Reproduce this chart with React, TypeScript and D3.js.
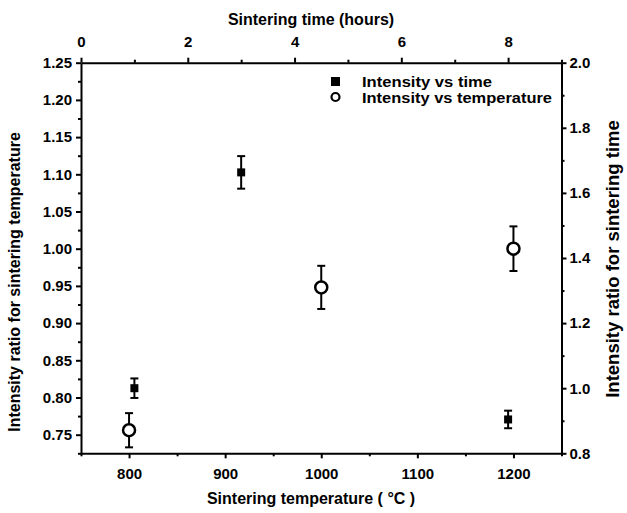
import React, { useEffect, useRef } from 'react';
import * as d3 from 'd3';

// intensity vs sintering temperature (bottom / left axes)
const tempX = [800, 1000, 1200];
const tempY = [0.756, 0.948, 1.0];
const tempErr = [0.023, 0.029, 0.03];

// intensity vs sintering time (top / right axes)
const timeX = [1, 3, 8];
const timeY = [1.0, 1.663, 0.904];
const timeErr = [0.03, 0.05, 0.027];

const leftTicks = [0.75, 0.8, 0.85, 0.9, 0.95, 1.0, 1.05, 1.1, 1.15, 1.2, 1.25];
const leftMinor = [0.725, 0.775, 0.825, 0.875, 0.925, 0.975, 1.025, 1.075, 1.125, 1.175, 1.225];
const rightTicks = [0.8, 1.0, 1.2, 1.4, 1.6, 1.8, 2.0];
const rightMinor = [0.9, 1.1, 1.3, 1.5, 1.7, 1.9];
const bottomTicks = [800, 900, 1000, 1100, 1200];
const bottomMinor = [750, 850, 950, 1050, 1150, 1250];
const topTicks = [0, 2, 4, 6, 8];
const topMinor = [1, 3, 5, 7, 9];

const legendLabels = ['Intensity vs time', 'Intensity vs temperature'];
const legendWidths = [130, 190];

const W = 627;
const H = 513;
const FONT = '"Liberation Sans", Arial, sans-serif';

function Chart() {
    const svgRef = useRef<SVGSVGElement>(null);

    useEffect(() => {
        const svg = d3.select(svgRef.current);
        svg.selectAll('*').remove();

        const left = 81, right = 561.5, top = 62.7, bottom = 453.3;

        const xTemp = d3.scaleLinear().domain([750, 1250]).range([left, right]);
        const xTime = d3.scaleLinear().domain([0, 9]).range([left, right]);
        const yTemp = d3.scaleLinear().domain([0.725, 1.25]).range([bottom, top]);
        const yTime = d3.scaleLinear().domain([0.8, 2.0]).range([bottom, top]);

        const styleAxis = (g: any, fontSize: number) => {
            g.selectAll('.domain').attr('stroke-width', 2).attr('stroke', '#000');
            g.selectAll('.tick line').attr('stroke-width', 2).attr('stroke', '#000');
            g.selectAll('.tick text')
                .attr('font-family', FONT)
                .attr('font-weight', 'bold')
                .attr('font-size', fontSize)
                .attr('fill', '#000');
        };

        // minor ticks first, then the major axes on top
        const minor = (axis: any, transform: string) => {
            const g = svg.append('g').attr('transform', transform).call(axis);
            g.select('.domain').remove();
            g.selectAll('.tick text').remove();
            g.selectAll('.tick line').attr('stroke-width', 2).attr('stroke', '#000');
        };
        minor(d3.axisLeft(yTemp).tickValues(leftMinor).tickSize(3), `translate(${left},0)`);
        minor(d3.axisRight(yTime).tickValues(rightMinor).tickSize(3), `translate(${right},0)`);
        minor(d3.axisBottom(xTemp).tickValues(bottomMinor).tickSize(3), `translate(0,${bottom})`);
        minor(d3.axisTop(xTime).tickValues(topMinor).tickSize(3), `translate(0,${top})`);

        svg.append('g')
            .attr('transform', `translate(${left},0)`)
            .call(d3.axisLeft(yTemp).tickValues(leftTicks).tickFormat(d3.format('.2f')).tickSize(5).tickSizeOuter(0).tickPadding(4))
            .call((g: any) => styleAxis(g, 15));

        svg.append('g')
            .attr('transform', `translate(${right},0)`)
            .call(d3.axisRight(yTime).tickValues(rightTicks).tickFormat(d3.format('.1f')).tickSize(5).tickSizeOuter(0).tickPadding(3))
            .call((g: any) => styleAxis(g, 15));

        svg.append('g')
            .attr('transform', `translate(0,${bottom})`)
            .call(d3.axisBottom(xTemp).tickValues(bottomTicks).tickFormat(d3.format('d')).tickSize(5).tickSizeOuter(0).tickPadding(10))
            .call((g: any) => styleAxis(g, 15));

        svg.append('g')
            .attr('transform', `translate(0,${top})`)
            .call(d3.axisTop(xTime).tickValues(topTicks).tickFormat(d3.format('d')).tickSize(5).tickSizeOuter(0).tickPadding(11))
            .call((g: any) => styleAxis(g, 15));

        // axis titles
        const title = (x: number, y: number, text: string, rotate = 0, size = 16) =>
            svg.append('text')
                .attr('transform', `translate(${x},${y}) rotate(${rotate})`)
                .attr('text-anchor', 'middle')
                .attr('font-family', FONT)
                .attr('font-weight', 'bold')
                .attr('font-size', size)
                .text(text);

        title(311, 25, 'Sintering time (hours)');
        title(311, 504, 'Sintering temperature ( \u00B0C )');
        title(20, 282, 'Intensity ratio for sintering temperature', -90);
        title(619, 259, 'Intensity ratio for sintering time', -90, 18.5);

        // error bars
        const errBars = (xs: number[], ys: number[], es: number[], xs_: any, ys_: any) => {
            const g = svg.append('g').attr('stroke', '#000').attr('stroke-width', 2);
            xs.forEach((xv, i) => {
                const cx = xs_(xv);
                const y0 = ys_(ys[i] - es[i]);
                const y1 = ys_(ys[i] + es[i]);
                g.append('line').attr('x1', cx).attr('x2', cx).attr('y1', y0).attr('y2', y1);
                g.append('line').attr('x1', cx - 4).attr('x2', cx + 4).attr('y1', y0).attr('y2', y0);
                g.append('line').attr('x1', cx - 4).attr('x2', cx + 4).attr('y1', y1).attr('y2', y1);
            });
        };
        errBars(timeX, timeY, timeErr, xTime, yTime);
        errBars(tempX, tempY, tempErr, xTemp, yTemp);

        svg.append('g')
            .selectAll('rect')
            .data(timeX)
            .enter()
            .append('rect')
            .attr('x', d => xTime(d) - 4)
            .attr('y', (d, i) => yTime(timeY[i]) - 4)
            .attr('width', 8)
            .attr('height', 8)
            .attr('fill', '#000');

        svg.append('g')
            .selectAll('circle')
            .data(tempX)
            .enter()
            .append('circle')
            .attr('cx', d => xTemp(d))
            .attr('cy', (d, i) => yTemp(tempY[i]))
            .attr('r', 6)
            .attr('fill', '#fff')
            .attr('stroke', '#000')
            .attr('stroke-width', 2.5);

        // legend
        const leg = svg.append('g');
        leg.append('rect').attr('x', 331).attr('y', 77).attr('width', 9).attr('height', 9).attr('fill', '#000');
        leg.append('circle').attr('cx', 335.5).attr('cy', 97).attr('r', 4).attr('fill', '#fff')
            .attr('stroke', '#000').attr('stroke-width', 2.2);
        legendLabels.forEach((t, i) => {
            leg.append('text')
                .attr('x', 362)
                .attr('y', 87 + i * 16)
                .attr('font-family', FONT)
                .attr('font-weight', 'bold')
                .attr('font-size', 15)
                .attr('textLength', legendWidths[i])
                .attr('lengthAdjust', 'spacingAndGlyphs')
                .text(t);
        });
    }, []);

    return <svg ref={svgRef} width={W} height={H} style={{ position: 'absolute', left: 0, top: 0, background: '#fff' }} />;
}

export default function App() {
    return <Chart />;
}
